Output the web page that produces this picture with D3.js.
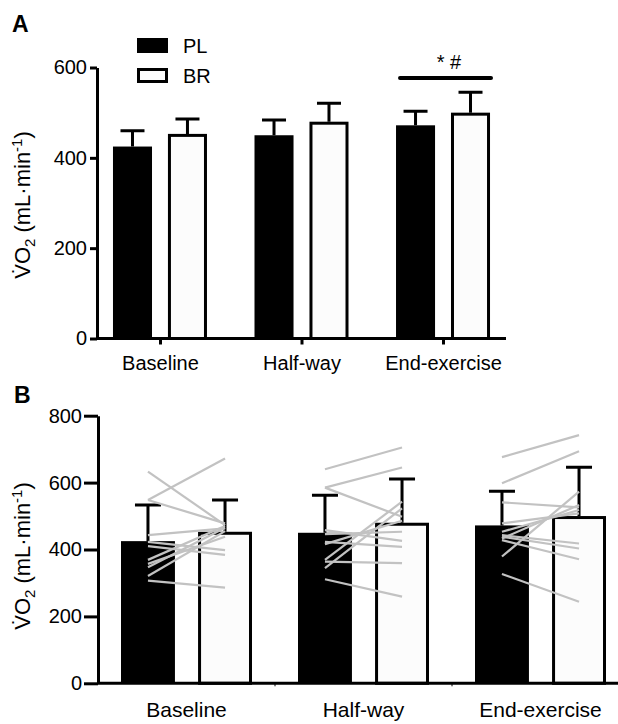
<!DOCTYPE html>
<html>
<head>
<meta charset="utf-8">
<script src="https://cdn.jsdelivr.net/npm/d3@7"></script>
<style>
  body { margin: 0; background: #fff; }
  svg text { font-family: "Liberation Sans", Arial, sans-serif; fill: #000; }
</style>
</head>
<body>
<svg id="canvas" width="618" height="724"></svg>
<script>
// categories + group means (same means in both panels)
var categories = ['Baseline', 'Half-way', 'End-exercise'];
var series = ['PL', 'BR'];
var meanPL = [425, 450, 472];
var meanBR = [453, 480, 500];
// panel A error = SEM, panel B error = SD
var semPL = [35, 34, 31];
var semBR = [33, 41, 45];
var sdPL = [108, 112, 102];
var sdBR = [95, 131, 146];
var ticksA = [0, 200, 400, 600];
var ticksB = [0, 200, 400, 600, 800];

// individual subjects (panel B), PL -> BR
var baselinePL = [633, 548, 548, 443, 423, 410, 369, 357, 347, 321, 307];
var baselineBR = [473, 672, 478, 463, 398, 384, 470, 438, 465, 455, 286];
var halfwayPL = [640, 585, 585, 458, 446, 423, 416, 369, 364, 344, 311];
var halfwayBR = [705, 645, 498, 426, 453, 408, 486, 543, 359, 523, 259];
var endPL = [676, 598, 541, 478, 453, 443, 438, 433, 428, 379, 327];
var endBR = [742, 694, 526, 508, 518, 418, 403, 533, 371, 573, 244];

var svg = d3.select('#canvas');
var fontSize = 20;

function rows(errPL, errBR) {
    var out = [];
    categories.forEach(function (c, i) {
        out.push({cat: c, s: 'PL', v: meanPL[i], e: errPL[i]});
        out.push({cat: c, s: 'BR', v: meanBR[i], e: errBR[i]});
    });
    return out;
}

function yLabel(g, x, y) {
    var t = g.append('text')
        .attr('transform', 'translate(' + x + ',' + y + ') rotate(-90)')
        .attr('text-anchor', 'middle')
        .style('font-size', '22px');
    t.append('tspan').text('V\u0307O');
    t.append('tspan').text('2').style('font-size', '15px').attr('dy', 5);
    t.append('tspan').text(' (mL\u00b7min').attr('dy', -5);
    t.append('tspan').text('-1').style('font-size', '15px').attr('dy', -8);
    t.append('tspan').text(')').attr('dy', 8);
}

// ---------- panel A ----------
var gA = svg.append('g');
var yA = d3.scaleLinear().domain([0, 600]).range([338.5, 67.5]);
var xA = d3.scalePoint().domain(categories).range([97, 506]).padding(0.445);
var subA = d3.scaleBand().domain(series).range([-47, 47]).paddingInner(0.29);

gA.append('text').text('A').attr('x', 12).attr('y', 32)
    .style('font-size', '23px').style('font-weight', 'bold');

var barsA = gA.selectAll('g.bar').data(rows(semPL, semBR)).enter().append('g')
    .attr('transform', function (d) { return 'translate(' + xA(d.cat) + ',0)'; });
barsA.append('rect')
    .attr('x', function (d) { return subA(d.s) + (d.s === 'BR' ? 1.5 : 0); })
    .attr('width', function (d) { return subA.bandwidth() - (d.s === 'BR' ? 3 : 0); })
    .attr('y', function (d) { return yA(d.v) + (d.s === 'BR' ? 1.5 : 0); })
    .attr('height', function (d) { return yA(0) - yA(d.v) - (d.s === 'BR' ? 1.5 : 0); })
    .attr('fill', function (d) { return d.s === 'PL' ? '#000' : '#fcfcfc'; })
    .attr('stroke', '#000').attr('stroke-width', function (d) { return d.s === 'BR' ? 3 : 0; });
barsA.append('path')
    .attr('d', function (d) {
        var cx = subA(d.s) + subA.bandwidth() / 2;
        return 'M' + cx + ',' + yA(d.v) + 'V' + yA(d.v + d.e) + 'M' + (cx - 12) + ',' + yA(d.v + d.e) + 'H' + (cx + 12);
    })
    .attr('stroke', '#000').attr('stroke-width', 3).attr('fill', 'none');

var axA = gA.append('g').attr('transform', 'translate(97,0)')
    .call(d3.axisLeft(yA).tickValues(ticksA).tickSize(7).tickSizeOuter(0).tickPadding(3));
var axAx = gA.append('g').attr('transform', 'translate(0,' + yA(0) + ')')
    .call(d3.axisBottom(xA).tickSize(6).tickSizeOuter(0).tickPadding(11));
axAx.select('.domain').attr('d', 'M97,0H506');
[axA, axAx].forEach(function (a) {
    a.selectAll('path, line').attr('stroke', '#000').attr('stroke-width', 3);
    a.selectAll('text').style('font-size', fontSize + 'px').attr('fill', '#000');
});

// legend
var legend = gA.append('g');
series.forEach(function (s, i) {
    legend.append('rect').attr('x', 138.5).attr('y', 39.5 + i * 30).attr('width', 28).attr('height', 12)
        .attr('fill', s === 'PL' ? '#000' : '#fcfcfc').attr('stroke', '#000').attr('stroke-width', 3);
    legend.append('text').text(s).attr('x', 183).attr('y', 53 + i * 30).style('font-size', fontSize + 'px');
});

// significance bar over end-exercise
gA.append('line').attr('x1', xA('End-exercise') - 43).attr('x2', xA('End-exercise') + 48)
    .attr('y1', 78).attr('y2', 78).attr('stroke', '#000').attr('stroke-width', 4).attr('stroke-linecap', 'round');
gA.append('text').text('* #').attr('x', xA('End-exercise') + 6).attr('y', 69)
    .attr('text-anchor', 'middle').style('font-size', fontSize + 'px');

yLabel(gA, 30, 205);

// ---------- panel B ----------
var gB = svg.append('g');
var yB = d3.scaleLinear().domain([0, 800]).range([683.3, 415.7]);
var xB = d3.scaleBand().domain(categories).range([98, 629]);
var subB = d3.scaleBand().domain(series).range([23, 154]).paddingInner(0.3);

gB.append('text').text('B').attr('x', 14).attr('y', 403)
    .style('font-size', '23px').style('font-weight', 'bold');

var barsB = gB.selectAll('g.bar').data(rows(sdPL, sdBR)).enter().append('g')
    .attr('transform', function (d) { return 'translate(' + xB(d.cat) + ',0)'; });
barsB.append('rect')
    .attr('x', function (d) { return subB(d.s) + (d.s === 'BR' ? 1.5 : 0); })
    .attr('width', function (d) { return subB.bandwidth() - (d.s === 'BR' ? 3 : 0); })
    .attr('y', function (d) { return yB(d.v) + (d.s === 'BR' ? 1.5 : 0); })
    .attr('height', function (d) { return yB(0) - yB(d.v) - (d.s === 'BR' ? 1.5 : 0); })
    .attr('fill', function (d) { return d.s === 'PL' ? '#000' : '#fcfcfc'; })
    .attr('stroke', '#000').attr('stroke-width', function (d) { return d.s === 'BR' ? 3 : 0; });
barsB.append('path')
    .attr('d', function (d) {
        var cx = subB(d.s) + subB.bandwidth() / 2;
        return 'M' + cx + ',' + yB(d.v) + 'V' + yB(d.v + d.e) + 'M' + (cx - 13) + ',' + yB(d.v + d.e) + 'H' + (cx + 13);
    })
    .attr('stroke', '#000').attr('stroke-width', 3).attr('fill', 'none');

// subject lines
var subjects = [[baselinePL, baselineBR], [halfwayPL, halfwayBR], [endPL, endBR]];
subjects.forEach(function (pair, i) {
    var x0 = xB(categories[i]) + subB('PL') + subB.bandwidth() / 2;
    var x1 = xB(categories[i]) + subB('BR') + subB.bandwidth() / 2;
    gB.append('g').selectAll('line').data(pair[0]).enter().append('line')
        .attr('x1', x0).attr('x2', x1)
        .attr('y1', function (d) { return yB(d); })
        .attr('y2', function (d, j) { return yB(pair[1][j]); })
        .attr('stroke', '#c2c2c2').attr('stroke-width', 2.2);
});

var axB = gB.append('g').attr('transform', 'translate(98,0)')
    .call(d3.axisLeft(yB).tickValues(ticksB).tickSize(14).tickSizeOuter(0).tickPadding(2));
axB.selectAll('path, line').attr('stroke', '#000').attr('stroke-width', 3);
axB.selectAll('text').style('font-size', fontSize + 'px').attr('fill', '#000');

var axBx = gB.append('g').attr('transform', 'translate(0,' + yB(0) + ')');
axBx.append('line').attr('x1', 97).attr('x2', 618).attr('stroke', '#000').attr('stroke-width', 3);
axBx.selectAll('line.tk').data(categories.slice(1)).enter().append('line')
    .attr('x1', function (d) { return xB(d); }).attr('x2', function (d) { return xB(d); })
    .attr('y1', 0).attr('y2', 3).attr('stroke', '#000').attr('stroke-width', 1);
axBx.selectAll('text').data(categories).enter().append('text')
    .text(function (d) { return d; })
    .attr('x', function (d) { return xB(d) + xB.bandwidth() / 2; })
    .attr('y', 34).attr('text-anchor', 'middle').style('font-size', '21px');

yLabel(gB, 30, 556);
</script>
</body>
</html>
